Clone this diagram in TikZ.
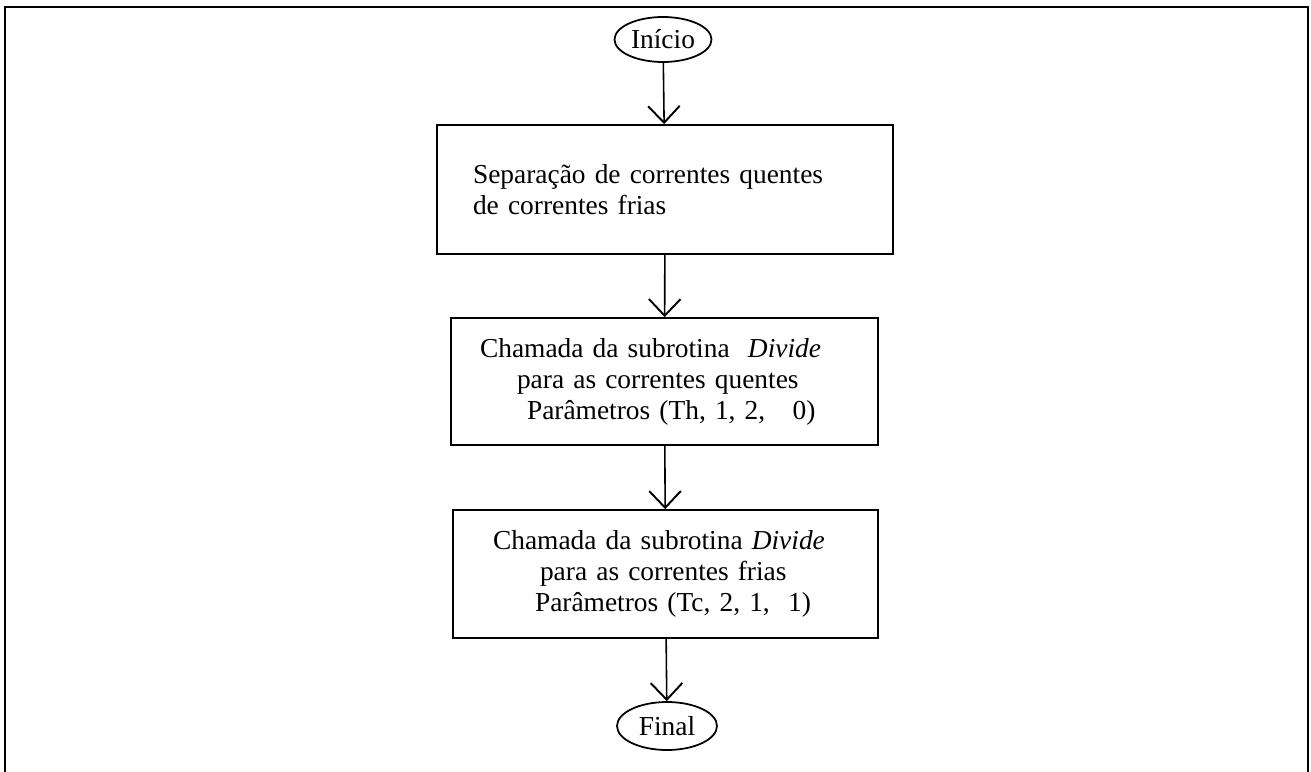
\documentclass[tikz,border=0pt]{standalone}
\usepackage{fontspec}
\setmainfont{Liberation Serif}
\usetikzlibrary{arrows.meta,shapes.geometric}
\tikzset{
  caixa/.style={draw,line width=1pt,rectangle,inner ysep=0pt,align=left,font=\fontsize{15.6}{17.6}\selectfont},
  terminal/.style={draw,line width=1pt,ellipse,inner sep=0pt,font=\fontsize{15.6}{17.6}\selectfont},
  seta/.style={line width=0.9pt,-{Straight Barb[length=9.5pt,width=18pt,line width=1.1pt]}}
}
\begin{document}
\begin{tikzpicture}[x=0.02cm,y=-0.02cm]
    \useasboundingbox (0,0) rectangle (1311,771);
    \draw[line width=1.1pt] (5,780) -- (5,7) -- (1308,7) -- (1308,780);
    \node[terminal,minimum width=1.94cm,minimum height=0.9cm] (inicio) at (663,39.5) {Início};
    \node[caixa,minimum width=9.12cm,minimum height=2.58cm,inner xsep=0.72cm,text width=7.68cm] (separa) at (665,189.5)
        {Separação de correntes quentes\\de correntes frias};
    \node[caixa,minimum width=8.54cm,minimum height=2.54cm,inner xsep=0.58cm,text width=7.38cm] (quentes) at (664.5,381.5)
        {Chamada da subrotina\ \ \textit{Divide}\\\hspace*{0.74cm}para as correntes quentes\\\hspace*{0.94cm}Parâmetros (Th, 1, 2,\ \ \ 0)};
    \node[caixa,minimum width=8.5cm,minimum height=2.56cm,inner xsep=0.8cm,text width=6.9cm] (frias) at (665.5,574)
        {Chamada da subrotina\ \textit{Divide}\\\hspace*{0.94cm}para as correntes frias\\\hspace*{0.84cm}Parâmetros (Tc, 2, 1,\ \ 1)};
    \node[terminal,minimum width=2cm,minimum height=0.96cm] (final) at (667,726) {Final};
    \draw[seta] (inicio) -- (separa);
    \draw[seta] (separa) -- (quentes);
    \draw[seta] (quentes) -- (frias);
    \draw[seta] (frias) -- (final);
\end{tikzpicture}
\end{document}
